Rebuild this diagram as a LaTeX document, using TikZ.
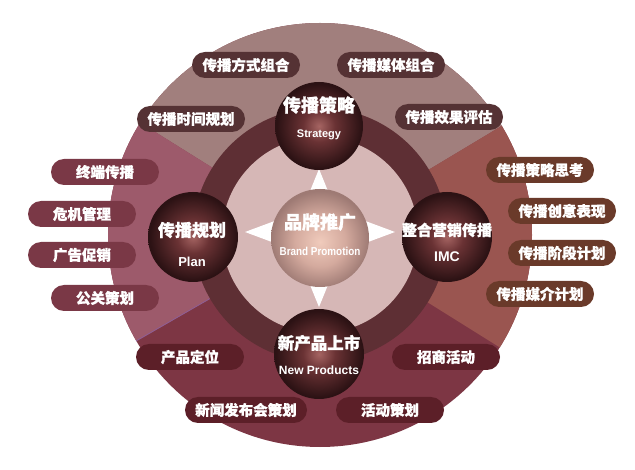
\documentclass[tikz,border=0pt]{standalone}
\usepackage{fontspec}
\setmainfont{Liberation Sans}
\newfontfamily\cjk{Noto Sans CJK SC}[BoldFeatures={FakeBold=1.2}]
\usetikzlibrary{shapes.misc}
\definecolor{topsec}{HTML}{A17F7D}
\definecolor{leftsec}{HTML}{9D5A6B}
\definecolor{rightsec}{HTML}{9A5550}
\definecolor{botsec}{HTML}{7D3644}
\definecolor{ringc}{HTML}{5E2F34}
\definecolor{innerc}{HTML}{D6B7B6}
\definecolor{toppill}{HTML}{553234}
\definecolor{leftpill}{HTML}{7A3846}
\definecolor{rightpill}{HTML}{6A3A2A}
\definecolor{botpill}{HTML}{5C1F28}
\definecolor{ballhi}{HTML}{A56462}
\definecolor{ballmid}{HTML}{6A3234}
\definecolor{balldark}{HTML}{2C1214}
\definecolor{cenhi}{HTML}{F0CBBC}
\definecolor{cenmid}{HTML}{D4AA9E}
\definecolor{cendark}{HTML}{9E7A74}
\definecolor{seam}{HTML}{8E5E96}
\pgfdeclareradialshading{nodeball}{\pgfpoint{0bp}{0bp}}{color(0bp)=(ballhi); color(9bp)=(ballmid); color(24bp)=(balldark); color(50bp)=(balldark)}
\pgfdeclareradialshading{cenball}{\pgfpoint{0bp}{-2bp}}{color(0bp)=(cenhi); color(13bp)=(cenmid); color(25bp)=(cendark); color(50bp)=(cendark)}
\tikzset{
  pill/.style={rounded rectangle, minimum width=108pt, minimum height=26pt, inner sep=0pt,
    text=white, font=\cjk\bfseries\fontsize{14.5}{15}\selectfont},
  ballnode/.style={circle, minimum size=90pt, inner sep=0pt, shading=nodeball},
  cjktitle/.style={text=white, inner sep=0pt, font=\cjk\bfseries\fontsize{#1}{#1}\selectfont},
  entitle/.style={text=white, inner sep=0pt, font=\bfseries\fontsize{#1}{#1}\selectfont},
}
\begin{document}
\begin{tikzpicture}[x=1pt,y=-1pt]
\useasboundingbox (0,0) rectangle (635,470);
\coordinate (C) at (320,235);
% big disc with four sectors
\begin{scope}
  \clip (C) circle[radius=212];
  \fill[botsec] (0,0) rectangle (635,470);
  \fill[topsec] (C) -- (-19,23) -- (-19,-300) -- (663,-300) -- (663,29) -- cycle;
  \fill[leftsec] (C) -- (-19,23) -- (-26,435) -- cycle;
  \fill[rightsec] (C) -- (663,29) -- (659,447) -- cycle;
\end{scope}
\coordinate (s1) at (211,298);
\coordinate (s2) at (136,341);
\draw[seam, line width=0.8pt] (s1) -- (s2);
% ring
\fill[ringc] (C) circle[radius=127];
\fill[innerc] (C) circle[radius=98];
% white arrows
\fill[white] (319,169) -- (308,196) -- (330,196) -- cycle;
\fill[white] (319,307) -- (308,280) -- (330,280) -- cycle;
\fill[white] (245,232) -- (280,219) -- (280,245) -- cycle;
\fill[white] (395,232) -- (360,219) -- (360,245) -- cycle;
% center ball
\node[circle, minimum size=98pt, inner sep=0pt, shading=cenball] (brand) at (320,238) {};
\node[cjktitle=18] (brandzh) at (320,222) {品牌推广};
\node[entitle=11.5] (branden) at (320,251) {\scalebox{0.86}[1]{Brand Promotion}};
% four balls
\node[ballnode, minimum size=88pt] (strat) at (319,126) {};
\node[ballnode] (plan) at (193,237) {};
\node[ballnode] (imc) at (447,237) {};
\node[ballnode] (newp) at (319,354) {};
\node[cjktitle=18] (stratzh) at (319,105) {传播策略};
\node[entitle=11] (straten) at (319,135) {Strategy};
\node[cjktitle=17] (planzh) at (192,230) {传播规划};
\node[entitle=13] (planen) at (192,262) {Plan};
\node[cjktitle=15] (imczh) at (447,230) {整合营销传播};
\node[entitle=14] (imcen) at (447,257) {IMC};
\node[cjktitle=16.5] (newpzh) at (319,343) {新产品上市};
\node[entitle=12] (newpen) at (319,370) {New Products};
% pills: top
\node[pill, fill=toppill] (t1) at (246,65) {传播方式组合};
\node[pill, fill=toppill] (t2) at (391,65) {传播媒体组合};
\node[pill, fill=toppill] (t3) at (191,119) {传播时间规划};
\node[pill, fill=toppill] (t4) at (449,117) {传播效果评估};
% left
\node[pill, fill=leftpill] (l1) at (105,172) {终端传播};
\node[pill, fill=leftpill] (l2) at (82,214) {危机管理};
\node[pill, fill=leftpill] (l3) at (82,255) {广告促销};
\node[pill, fill=leftpill] (l4) at (105,298) {公关策划};
% right
\node[pill, fill=rightpill] (r1) at (540,170) {传播策略思考};
\node[pill, fill=rightpill] (r2) at (562,211) {传播创意表现};
\node[pill, fill=rightpill] (r3) at (562,253) {传播阶段计划};
\node[pill, fill=rightpill] (r4) at (540,294) {传播媒介计划};
% bottom
\node[pill, fill=botpill] (b1) at (190,357) {产品定位};
\node[pill, fill=botpill] (b2) at (446,357) {招商活动};
\node[pill, fill=botpill, minimum width=122pt] (b3) at (246,410) {新闻发布会策划};
\node[pill, fill=botpill] (b4) at (390,410) {活动策划};
\end{tikzpicture}
\end{document}
